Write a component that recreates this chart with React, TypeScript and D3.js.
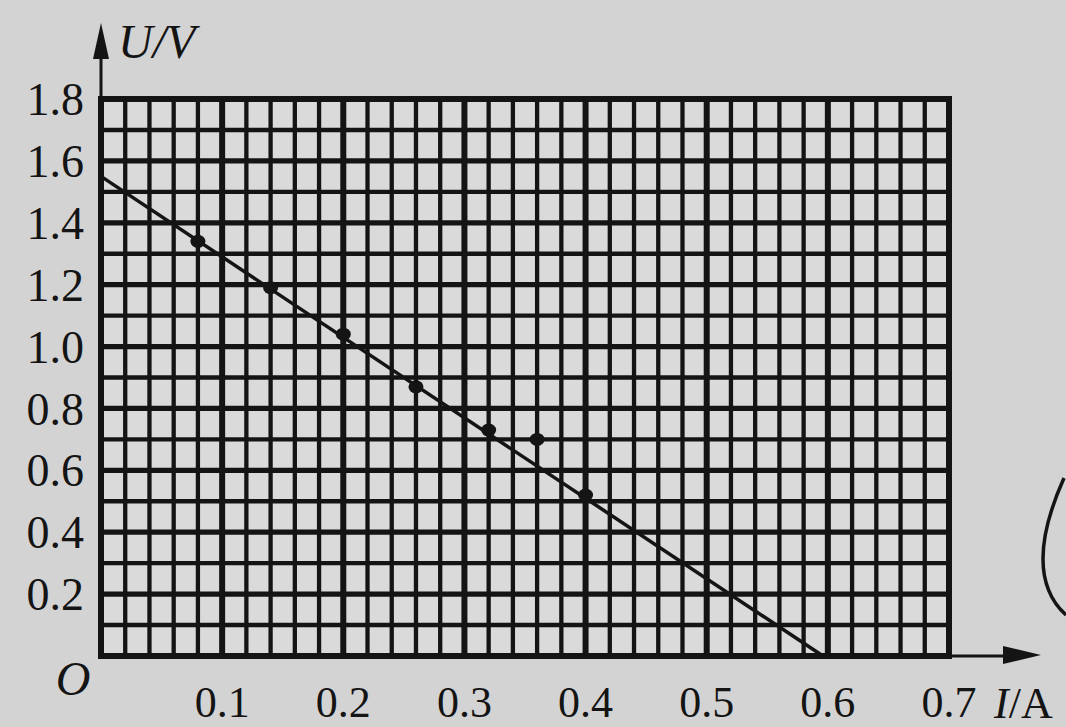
import React from 'react';
import * as d3 from 'd3';

// measured points (I in A, U in V)
const pointI = [0.08, 0.14, 0.2, 0.26, 0.32, 0.36, 0.4];
const pointU = [1.34, 1.19, 1.04, 0.87, 0.73, 0.7, 0.52];

// fitted straight line end points
const lineI = [0, 0.596];
const lineU = [1.55, 0];

const xTicks = [0.1, 0.2, 0.3, 0.4, 0.5, 0.6, 0.7];
const yTicks = [0.2, 0.4, 0.6, 0.8, 1.0, 1.2, 1.4, 1.6, 1.8];

const W = 1066;
const H = 727;
const FONT = '"Liberation Serif", "DejaVu Serif", serif';

const App: React.FC = () => {
  const x = d3.scaleLinear().domain([0, 0.7]).range([101, 949]);
  const y = d3.scaleLinear().domain([0, 1.8]).range([656, 99]);

  // fine grid: 0.02 A columns, 0.1 V rows
  const cols = d3.range(0, 36).map(i => +(i * 0.02).toFixed(2));
  const rows = d3.range(0, 19).map(i => +(i * 0.1).toFixed(1));

  const line = d3.line<number>()
    .x((d, i) => x(lineI[i]))
    .y(d => y(d));

  const ink = '#141414';

  return (
    <svg width={W} height={H} style={{ position: 'absolute', left: 0, top: 0, display: 'block' }}>
      <rect x={0} y={0} width={W} height={H} fill="#d3d3d3" />
      <rect x={x(0)} y={y(1.8)} width={x(0.7) - x(0)} height={y(0) - y(1.8)} fill="#dadada" />

      {/* grid */}
      {cols.map((c, i) => (
        <line key={'c' + i} x1={x(c)} x2={x(c)} y1={y(0)} y2={y(1.8)}
          stroke={ink} strokeWidth={i % 5 === 0 ? 6 : 4.3} />
      ))}
      {rows.map((r, i) => (
        <line key={'r' + i} x1={x(0)} x2={x(0.7)} y1={y(r)} y2={y(r)}
          stroke={ink} strokeWidth={i % 2 === 0 ? 5.2 : 4.4} />
      ))}
      <rect x={x(0)} y={y(1.8)} width={x(0.7) - x(0)} height={y(0) - y(1.8)}
        fill="none" stroke={ink} strokeWidth={6} />

      {/* axes with arrows */}
      <line x1={x(0)} x2={x(0)} y1={y(0)} y2={40} stroke={ink} strokeWidth={3} />
      <path d={`M${x(0)},23 L${x(0) - 8},59 L${x(0) + 8},59 Z`} fill={ink} />
      <line x1={x(0)} x2={1020} y1={y(0)} y2={y(0)} stroke={ink} strokeWidth={3} />
      <path d={`M1041,${y(0) - 1} L1003,${y(0) - 10} L1003,${y(0) + 8} Z`} fill={ink} />

      {/* fitted line */}
      <path d={line(lineU) || ''} fill="none" stroke={ink} strokeWidth={3.5} />

      {/* points */}
      {pointI.map((d, i) => (
        <ellipse key={'p' + i} cx={x(d)} cy={y(pointU[i])} rx={7.5} ry={6.5} fill={ink} />
      ))}

      {/* tick labels */}
      {yTicks.map(t => (
        <text key={'y' + t} x={84} y={y(t)} dy="0.35em" textAnchor="end"
          fontFamily={FONT} fontSize={46} fill={ink}>{t.toFixed(1)}</text>
      ))}
      {xTicks.map(t => (
        <text key={'x' + t} x={x(t)} y={717} textAnchor="middle"
          fontFamily={FONT} fontSize={44} fill={ink}>{t.toFixed(1)}</text>
      ))}

      <text x={118} y={58} fontFamily={FONT} fontSize={48} fontStyle="italic" fill={ink}>U/V</text>
      <text x={994} y={718} fontFamily={FONT} fontSize={44} fontStyle="italic" fill={ink}>
        I<tspan fontStyle="normal">/A</tspan>
      </text>
      <text x={73} y={695} textAnchor="middle" fontFamily={FONT} fontSize={48} fontStyle="italic" fill={ink}>O</text>

      {/* edge of the neighbouring figure */}
      <path d="M1064,478 Q1021,574 1066,615" fill="none" stroke={ink} strokeWidth={3.5} />
    </svg>
  );
};

export default App;
